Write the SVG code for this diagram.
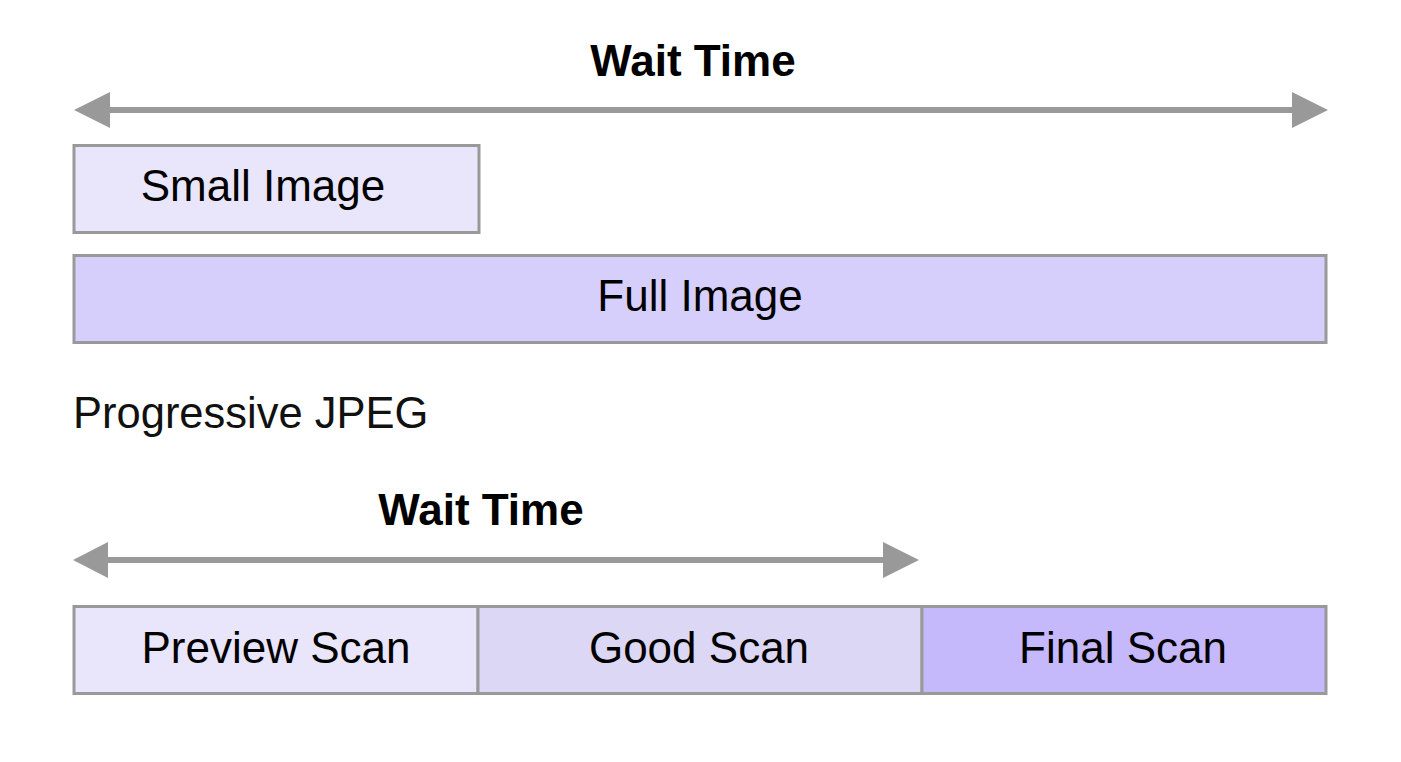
<svg xmlns="http://www.w3.org/2000/svg" width="1401" height="762" viewBox="0 0 1401 762">
<style>
.box{stroke:#999;stroke-width:3}
.lbl{font-family:"Liberation Sans",Arial,sans-serif;font-size:44px;fill:#000;text-anchor:middle}
.title{font-family:"Liberation Sans",Arial,sans-serif;font-size:44px;font-weight:bold;fill:#000;text-anchor:middle}
.arr{stroke:#999;stroke-width:6;fill:none}
.head{fill:#999}
</style>
<rect width="1401" height="762" fill="#fff"/>
<g id="connectors">
<line class="arr" x1="108" y1="110" x2="1294" y2="110"/>
<polygon class="head" points="74,110 110,92 110,128"/>
<polygon class="head" points="1328,110 1292,92 1292,128"/>
<line class="arr" x1="106" y1="560" x2="885" y2="560"/>
<polygon class="head" points="73,560 108,542 108,578"/>
<polygon class="head" points="919,560 883,542 883,578"/>
</g>
<g id="title-top"><text class="title" x="693" y="76">Wait Time</text></g>
<g id="small-image">
<rect class="box" x="74" y="145.500" width="405" height="87" fill="#E9E6FC"/>
<text class="lbl" x="263" y="201">Small Image</text>
</g>
<g id="full-image">
<rect class="box" x="74" y="255.500" width="1252" height="87" fill="#D6CFFC"/>
<text class="lbl" x="700" y="311">Full Image</text>
</g>
<g id="label-progressive"><text x="73" y="428" font-family="'Liberation Sans',Arial,sans-serif" font-size="43.500" fill="#111">Progressive JPEG</text></g>
<g id="title-bottom"><text class="title" x="481" y="525">Wait Time</text></g>
<g id="preview-scan">
<rect class="box" x="74" y="606.500" width="404" height="87" fill="#E9E5FB"/>
<text class="lbl" x="276" y="663">Preview Scan</text>
</g>
<g id="good-scan">
<rect class="box" x="478" y="606.500" width="444" height="87" fill="#DDD7F6"/>
<text class="lbl" x="699" y="663">Good Scan</text>
</g>
<g id="final-scan">
<rect class="box" x="922" y="606.500" width="404" height="87" fill="#C5B8FB"/>
<text class="lbl" x="1123" y="663">Final Scan</text>
</g>
</svg>
